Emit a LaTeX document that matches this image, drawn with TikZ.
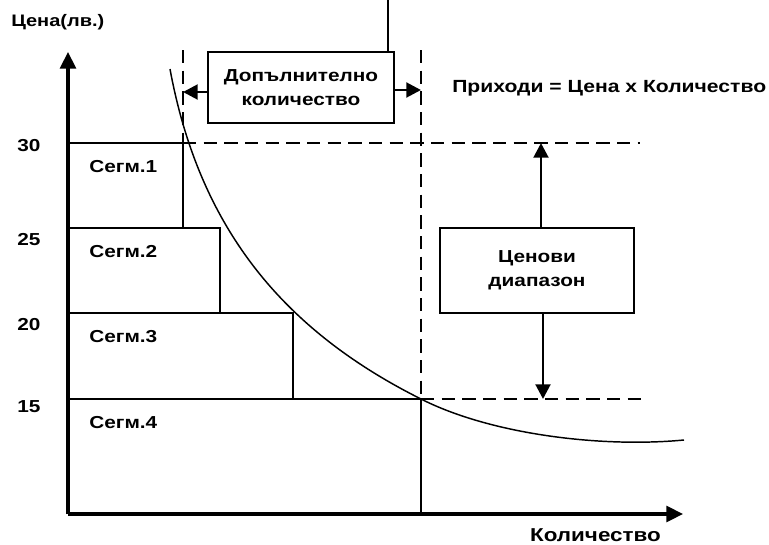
\documentclass[tikz,border=0pt]{standalone}
\usepackage{fontspec}
\setmainfont{Liberation Sans}[FakeStretch=1.2]
\usetikzlibrary{arrows.meta}
\begin{document}
\begin{tikzpicture}[x=0.75pt,y=-0.75pt,
  lbl/.style={font=\bfseries\fontsize{13}{15}\selectfont, inner sep=0pt},
  boxnode/.style={draw, line width=1.4pt, font=\bfseries\fontsize{13}{18}\selectfont, align=center, inner sep=0pt},
  axis/.style={line width=2.3pt, -{Triangle[length=12.5pt,width=12pt]}},
  seg/.style={line width=1.3pt},
  dsh/.style={line width=2pt, dash pattern=on 10pt off 5.5pt},
  arr/.style={line width=2.2pt, -{Triangle[length=11pt,width=11pt]}}
]
\useasboundingbox (0,0) rectangle (769,544);
% axes
\coordinate (O) at (68,514);
\coordinate (Ytop) at (68,52);
\coordinate (Xend) at (683,514);
\draw[axis] (O) -- (Ytop);
\draw[axis] (O) -- (Xend);
\node[lbl, anchor=west, font=\bfseries\fontsize{12.5}{15}\selectfont] (ylab) at (11,22) {Цена(лв.)};
\node[lbl, anchor=east, font=\bfseries\fontsize{14}{16}\selectfont] (xlab) at (661,535) {Количество};
% ticks
\node[lbl, font=\bfseries\fontsize{13}{15}\selectfont] (t30) at (29,146) {30};
\node[lbl, font=\bfseries\fontsize{13}{15}\selectfont] (t25) at (29,240) {25};
\node[lbl, font=\bfseries\fontsize{13}{15}\selectfont] (t20) at (29,325) {20};
\node[lbl, font=\bfseries\fontsize{13}{15}\selectfont] (t15) at (29,407) {15};
% segments
\coordinate (a30) at (68,143);
\coordinate (b30) at (183,143);
\coordinate (b25) at (183,228);
\coordinate (a25) at (68,228);
\coordinate (c25) at (220,228);
\coordinate (c20) at (220,313);
\coordinate (a20) at (68,313);
\coordinate (d20) at (293,313);
\coordinate (d15) at (293,399);
\coordinate (a15) at (68,399);
\coordinate (e15) at (421,399);
\coordinate (e0) at (421,514);
\draw[seg] (a30) -- (b30) -- (b25) -- (a25);
\draw[seg] (a25) -- (c25) -- (c20) -- (a20);
\draw[seg] (a20) -- (d20) -- (d15) -- (a15);
\draw[seg] (a15) -- (e15) -- (e0);
\node[lbl, anchor=west] (s1) at (89,167) {Сегм.1};
\node[lbl, anchor=west] (s2) at (89,252) {Сегм.2};
\node[lbl, anchor=west] (s3) at (89,337) {Сегм.3};
\node[lbl, anchor=west] (s4) at (89,423) {Сегм.4};
% demand curve
\coordinate (cs) at (170,69);
\coordinate (ce) at (684,440);
\draw[line width=1.1pt] (cs) .. controls (199,226) and (281,329) .. (e15)
  .. controls (490,434) and (600,448) .. (ce);
% dashed lines
\coordinate (r30) at (640,143);
\coordinate (r15) at (642,399);
\coordinate (v1top) at (183,50);
\coordinate (v2top) at (421,50);
\draw[dsh] (b30) -- (r30);
\draw[dsh] (e15) -- (r15);
\draw[dsh] (v1top) -- (b30);
\draw[dsh] (v2top) -- (e15);
% additional quantity box
\node[boxnode, minimum width=186pt*0.75, minimum height=71pt*0.75] (dq) at (301,87.5) {Допълнително\\количество};
\coordinate (dqtop) at (388,0);
\draw[seg] (dq.north -| dqtop) -- (dqtop);
\coordinate (al) at (183,92);
\coordinate (ar) at (421,90);
\draw[arr] (dq.west |- al) -- (al);
\draw[arr] (dq.east |- ar) -- (ar);
\node[lbl, anchor=west, font=\bfseries\fontsize{13.2}{16}\selectfont] (rev) at (452,88) {Приходи = Цена х Количество};
% price range box
\node[boxnode, minimum width=194pt*0.75, minimum height=85pt*0.75] (pr) at (537,270.5) {Ценови\\диапазон};
\coordinate (pu) at (541,143);
\coordinate (pd) at (543,399);
\draw[arr] (pr.north -| pu) -- (pu);
\draw[arr] (pr.south -| pd) -- (pd);
\end{tikzpicture}
\end{document}
